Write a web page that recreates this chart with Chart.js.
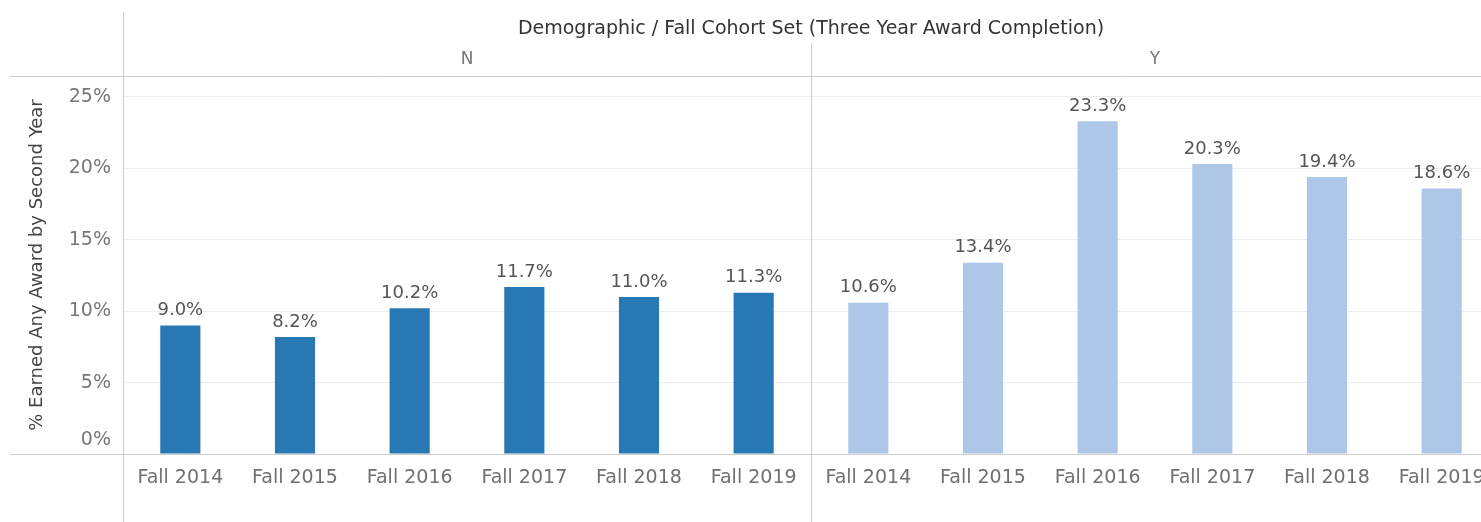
<!DOCTYPE html>
<html>
<head>
<meta charset="utf-8">
<script src="https://cdn.jsdelivr.net/npm/chart.js@4.4.1/dist/chart.umd.min.js"></script>
<style>
  html, body { margin: 0; padding: 0; background: #fff; overflow: hidden; }
  #wrap { width: 1500px; height: 522px; }
</style>
</head>
<body>
<div id="wrap"><canvas id="chart" width="1500" height="522"></canvas></div>
<script>
// data
const cohorts = ["Fall 2014", "Fall 2015", "Fall 2016", "Fall 2017", "Fall 2018", "Fall 2019"];
const groups = ["N", "Y"];
const valuesN = [9.0, 8.2, 10.2, 11.7, 11.0, 11.3];
const valuesY = [10.6, 13.4, 23.3, 20.3, 19.4, 18.6];
const yTicks = [0, 5, 10, 15, 20, 25];

const chartTitle = "Demographic / Fall Cohort Set (Three Year Award Completion)";
const yTitle = "% Earned Any Award by Second Year";

const FONT = "'DejaVu Sans', sans-serif";
const colors = { N: "#2878b4", Y: "#aec7e8" };

const labels = cohorts.concat(cohorts);
const values = valuesN.concat(valuesY);
const barColors = labels.map((_, i) => (i < cohorts.length ? colors.N : colors.Y));

// header, panel lines and value labels
const decorations = {
  id: "decorations",
  afterDraw(chart) {
    const ctx = chart.ctx;
    const area = chart.chartArea;
    const x = chart.scales.x;
    const W = chart.width;
    const H = chart.height;
    ctx.save();

    // frame lines
    ctx.strokeStyle = "#cfcfcf";
    ctx.lineWidth = 1;
    ctx.beginPath();
    ctx.moveTo(10, area.top + 0.5); ctx.lineTo(W, area.top + 0.5);
    ctx.moveTo(10, area.bottom + 0.5); ctx.lineTo(W, area.bottom + 0.5);
    ctx.moveTo(area.left + 0.5, 12); ctx.lineTo(area.left + 0.5, H);
    const mid = (x.getPixelForValue(cohorts.length - 1) + x.getPixelForValue(cohorts.length)) / 2;
    ctx.moveTo(Math.round(mid) + 0.5, 43); ctx.lineTo(Math.round(mid) + 0.5, H);
    ctx.stroke();

    // header texts
    ctx.textAlign = "center";
    ctx.textBaseline = "middle";
    ctx.fillStyle = "#333";
    ctx.font = "19px " + FONT;
    ctx.fillText(chartTitle, mid, 29);
    ctx.fillStyle = "#777";
    ctx.font = "17px " + FONT;
    ctx.fillText(groups[0], (area.left + mid) / 2, 60);
    ctx.fillText(groups[1], (mid + area.right) / 2, 60);

    // y axis title
    ctx.save();
    ctx.translate(37, (area.top + area.bottom) / 2);
    ctx.rotate(-Math.PI / 2);
    ctx.fillStyle = "#444";
    ctx.font = "18px " + FONT;
    ctx.fillText(yTitle, 0, 0);
    ctx.restore();

    // 0% tick sits just above the baseline
    ctx.textAlign = "right";
    ctx.fillStyle = "#777";
    ctx.font = "19px " + FONT;
    ctx.fillText(yTicks[0] + "%", area.left - 12, area.bottom - 14);

    // value labels
    ctx.textAlign = "center";
    ctx.fillStyle = "#555";
    ctx.font = "18px " + FONT;
    ctx.textBaseline = "bottom";
    const meta = chart.getDatasetMeta(0);
    meta.data.forEach((bar, i) => {
      ctx.fillText(values[i].toFixed(1) + "%", bar.x, bar.y - 6);
    });
    ctx.restore();
  }
};

new Chart(document.getElementById("chart").getContext("2d"), {
  type: "bar",
  data: {
    labels: labels,
    datasets: [{
      data: values,
      backgroundColor: barColors,
      categoryPercentage: 1,
      barPercentage: 0.35
    }]
  },
  options: {
    responsive: false,
    animation: false,
    layout: { padding: { top: 76, left: 0, right: 1, bottom: 0 } },
    plugins: { legend: { display: false }, tooltip: { enabled: false } },
    scales: {
      x: {
        grid: { display: false },
        border: { display: false },
        ticks: { color: "#707070", font: { family: FONT, size: 19 }, padding: 5, maxRotation: 0, autoSkip: false },
        afterFit: (scale) => { scale.height = 68; }
      },
      y: {
        min: 0,
        max: 26.47,
        grid: { color: "#ececec", drawTicks: false },
        border: { display: false },
        afterBuildTicks: (scale) => {
          scale.ticks = yTicks.map((v) => ({ value: v }));
        },
        ticks: {
          color: "#777",
          padding: 12,
          font: { family: FONT, size: 19 },
          callback: (v) => (v === 0 ? "" : v + "%")
        },
        afterFit: (scale) => { scale.width = 123; }
      }
    }
  },
  plugins: [decorations]
});
</script>
</body>
</html>
